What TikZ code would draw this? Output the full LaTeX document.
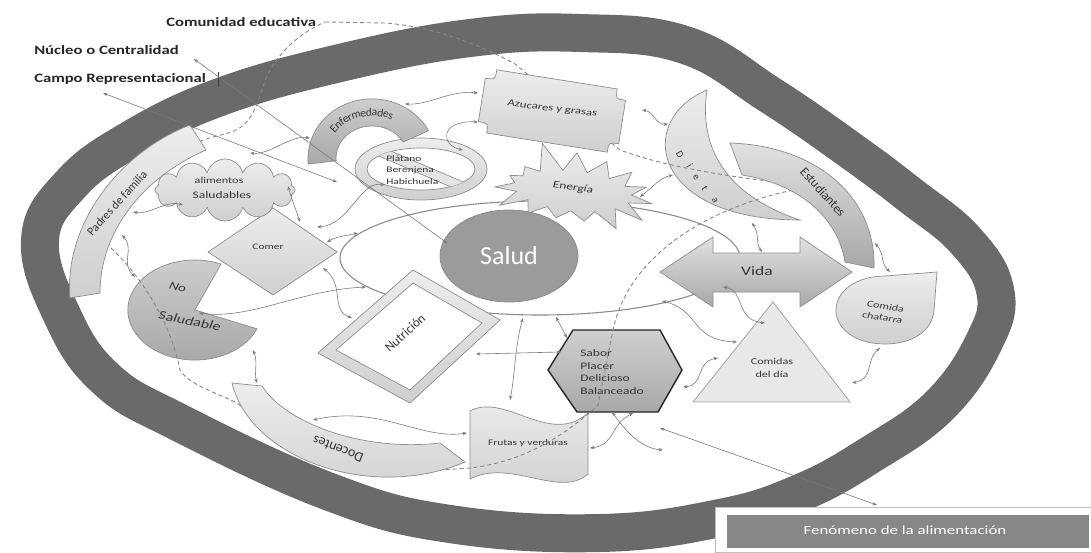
\documentclass[tikz,border=0pt]{standalone}
\usepackage{fontspec}
\setmainfont{Carlito}
\usetikzlibrary{shapes.symbols,shapes.geometric,arrows.meta,decorations.text}
\definecolor{ringc}{HTML}{6A6A6A}
\definecolor{cg}{HTML}{7A7A7A}
\definecolor{edgec}{HTML}{8C8C8C}
\definecolor{lf}{HTML}{EDEDED}
\definecolor{mf}{HTML}{CFCFCF}
\definecolor{df}{HTML}{A8A8A8}
\definecolor{txt}{HTML}{363636}
\definecolor{saludc}{HTML}{9B9B9B}
\begin{document}
\begin{tikzpicture}[x=1pt,y=-1pt,
 conn/.style={draw=cg, line width=0.6pt, {Stealth[length=4.5pt,width=3.4pt]}-{Stealth[length=4.5pt,width=3.4pt]}},
 lite/.style={draw=edgec, line width=0.7pt, top color=lf, bottom color=mf},
 midf/.style={draw=edgec, line width=0.7pt, top color=lf!60!mf, bottom color=df},
 dark/.style={draw=edgec, line width=0.7pt, top color=mf, bottom color=df},
 lbl/.style={inner sep=0pt, text=txt},
 hs/.style={xscale=1.35},
 fs/.style={font=\fontsize{#1}{#1}\selectfont},
 cdash/.style={draw=cg!90, line width=0.9pt, dash pattern=on 4pt off 3pt},
 toplbl/.style={inner sep=0pt, anchor=west, text=black!85, font=\bfseries\fontsize{12.8}{12.8}\selectfont, xscale=1.3}
]
\useasboundingbox (0,0) rectangle (1091,552);

% ring
\draw[ringc, line width=38pt, line join=round] plot[smooth cycle, tension=0.7] coordinates {
 (40,240) (62,315) (105,378) (178,422) (330,492) (450,524) (600,533) (720,518) (800,493) (870,455) (940,405) (985,340) (995,290) (965,240) (910,195) (850,150) (770,95) (685,45) (580,33) (470,38) (340,63) (220,97) (130,140) (70,185)};

% central field
\node[ellipse, draw=edgec, line width=1.1pt, minimum width=400pt, minimum height=114pt, inner sep=0pt] (field) at (540,258) {};
\node[ellipse, draw=edgec, line width=0.8pt, fill=saludc, minimum width=138pt, minimum height=92pt, text=white, fs=26] (salud) at (509,256) {Salud};
\node[starburst, starburst points=15, starburst point height=30pt, random starburst=5, lite, minimum width=178pt, minimum height=100pt, rotate=-6] (energia) at (573,191) {};
\node[lbl, fs=10, hs, rotate=-10] (energiat) at (573,188) {Energía};

% Dieta
\path[lite] (707,90) .. controls (635,120) and (650,220) .. (800,220) .. controls (728,196) and (698,150) .. (707,90) -- cycle;
\node[lbl, fs=10, rotate=-60] (d1) at (680,155) {D};
\node[lbl, fs=10, rotate=-60] (d2) at (690,166) {i};
\node[lbl, fs=10, rotate=-60] (d3) at (696,177) {e};
\node[lbl, fs=10, rotate=-60] (d4) at (705,188) {t};
\node[lbl, fs=10, rotate=-60] (d5) at (715,200) {a};

% pacman
\path[dark] (195,310) -- (221,264) arc[start angle=-67, end angle=-338, x radius=67, y radius=50] -- cycle;
\node[lbl, fs=11, hs, rotate=-20] (no) at (178,287) {No};
\node[lbl, fs=12, hs, rotate=-15] (nosal) at (190,321) {Saludable};

% Comer
\path[lite] (208,252) -- (273,208) -- (337,252) -- (273,295) -- cycle;
\node[lbl, fs=8.5, hs] (comer) at (268,247) {Comer};

% Nutricion
\path[lite] (318,353) -- (413,270) -- (500,320) -- (410,403) -- cycle;
\path[draw=edgec, fill=white, line width=0.7pt] (336,350) -- (413,283) -- (482,323) -- (410,390) -- cycle;
\node[lbl, fs=13, rotate=42] (nutri) at (405,333) {Nutrición};

% Frutas
\path[lite] (470,411) .. controls (505,392) and (550,447) .. (588,413) -- (588,474) .. controls (560,499) and (510,458) .. (470,479) -- cycle;
\node[lbl, fs=8.5, hs] (frutas) at (528,443) {Frutas y verduras};

% hexagon
\path[draw=black!85, line width=1.4pt, top color=mf, bottom color=df] (548,370) -- (573,330) -- (660,330) -- (682,370) -- (658,412) -- (577,412) -- cycle;
\node[lbl, align=left, anchor=west, font=\fontsize{10}{12.5}\selectfont, hs] (sabor) at (580,372) {Sabor\\Placer\\Delicioso\\Balanceado};

% triangle
\path[draw=edgec!80, line width=0.8pt, fill=lf!85!mf] (773,302) -- (850,402) -- (693,402) -- cycle;
\node[lbl, font=\fontsize{9}{13}\selectfont, align=center, hs] (comidas) at (772,368) {Comidas\\del día};

% Vida
\path[midf] (660,272) -- (713,237) -- (713,253) -- (800,253) -- (800,237) -- (852,272) -- (800,307) -- (800,292) -- (713,292) -- (713,307) -- cycle;
\node[lbl, fs=13, hs] (vida) at (757,271) {Vida};

% Comida chatarra
\path[lite] (885,276) -- (937,272) -- (934,310) .. controls (932,334) and (908,344) .. (885,344) .. controls (857,344) and (836,330) .. (836,310) .. controls (836,290) and (858,276) .. (885,276) -- cycle;
\node[lbl, font=\fontsize{9}{11}\selectfont, align=center, hs, rotate=-12] (chat) at (884,312) {Comida\\chatarra};

% Platano no-symbol
\path[lite, even odd rule] (421,169) ellipse[x radius=66, y radius=31] (421,169) ellipse[x radius=54, y radius=21];
\begin{scope}
\clip (421,169) ellipse[x radius=54, y radius=21];
\draw[edgec, line width=10pt] (372,148) -- (470,190);
\draw[lf!70!mf, line width=8.4pt] (366,145.5) -- (476,192.5);
\end{scope}
\node[lbl, align=left, anchor=west, font=\fontsize{8.5}{11.5}\selectfont, hs] (platano) at (386,170) {Plátano\\Berenjena\\Habichuela};

% Enfermedades
\path[dark] (308.2,164.1) arc[start angle=-185, end angle=-28, x radius=64, y radius=60] -- (403.2,142) arc[start angle=-30, end angle=-185, x radius=36, y radius=32] -- cycle;
\path[decorate, decoration={text along path, text align=center, raise=-4pt, text color=txt, text={|\fontsize{11.5}{11.5}\selectfont|Enfermedades}}] (322,158) arc[start angle=-180, end angle=-30, x radius=50, y radius=46];

% dashed community loop
\draw[cdash] (325,22) -- (385,23) .. controls (440,27) and (490,50) .. (515,64) -- (620,150) .. controls (660,165) and (720,176) .. (793,184)
  (793,190) .. controls (700,210) and (625,260) .. (612,335) -- (598,405) .. controls (560,440) and (520,462) .. (470,468) -- (440,470)
  .. controls (350,480) and (270,430) .. (237,403) .. controls (210,390) and (190,385) .. (180,370)
  .. controls (170,320) and (140,275) .. (110,247) .. controls (100,210) and (150,150) .. (225,134)
  .. controls (250,128) and (255,110) .. (262,90) .. controls (270,60) and (295,35) .. (325,22);

% shapes above the dashed loop
\begin{scope}[shift={(552,111)}, rotate=-9]
\path[lite] (-61,-32) -- (61,-32) .. controls (61,-22) .. (71,-22) -- (71,22) .. controls (61,22) .. (61,32) -- (-61,32) .. controls (-61,22) .. (-71,22) -- (-71,-22) .. controls (-61,-22) .. (-61,-32) -- cycle;
\node[lbl, fs=9.5, hs, rotate=-9] (azu) at (0,-2) {Azucares y grasas};
\end{scope}

\path[lite] (70,298) .. controls (64,225) and (118,153) .. (190,125) -- (206,150) .. controls (142,178) and (100,232) .. (100,293) -- cycle;
\node[lbl, fs=12, rotate=48] (padres) at (117,203) {Padres de familia};

\node[cloud, cloud puffs=12, cloud ignores aspect, lite, minimum width=140pt, minimum height=62pt, inner sep=0pt] (cloud) at (225,190) {};
\node[lbl, fs=9, hs] (alim) at (219,180) {alimentos};
\node[lbl, fs=10, hs] (saluda) at (222,195) {Saludables};

\path[lite] (232,383) .. controls (250,458) and (370,502) .. (465,462) -- (440,443) .. controls (360,452) and (285,422) .. (262,386) -- cycle;
\node[lbl, fs=14, rotate=158] (docentes) at (338,449) {Docentes};

\path[midf] (730,143) .. controls (818,146) and (876,198) .. (874,268) -- (845,262) .. controls (838,218) and (800,184) .. (742,175) -- cycle;
\node[lbl, fs=13, rotate=-48] (estud) at (823,192) {Estudiantes};

% Fenomeno box
\node[draw=black!25, line width=1pt, fill=white, minimum width=376pt, minimum height=45pt, anchor=north west, inner sep=0pt] (fbox) at (715,507) {};
\node[fill=black!47, minimum width=362pt, minimum height=33pt, anchor=north west, inner sep=0pt] (fin) at (727,515) {};
\node[inner sep=0pt, text=white, fs=12.5, hs] (fen) at (905,530) {Fenómeno de la alimentación};

% top labels
\node[toplbl] (comunidad) at (166,22) {Comunidad educativa};
\node[toplbl] (nucleo) at (34,50) {Núcleo o Centralidad};
\node[toplbl] (campo) at (34,79) {Campo Representacional};
\coordinate (cur1) at (218,72); \coordinate (cur2) at (218,87);
\draw[black!75, line width=0.8pt] (cur1) -- (cur2);

% connector end points
\coordinate (nucA) at (194,59); \coordinate (nucB) at (447,243);
\coordinate (camA) at (103,93); \coordinate (camB) at (337,182);
\coordinate (fenA) at (660,428); \coordinate (fenB) at (877,505);
\coordinate (a1) at (183,205); \coordinate (a2) at (133,212);
\coordinate (b1) at (122,235); \coordinate (b2) at (135,277);
\coordinate (c1) at (288,186); \coordinate (c2) at (300,222);
\coordinate (e1) at (327,242); \coordinate (e2) at (358,233);
\coordinate (f1) at (323,268); \coordinate (f2) at (352,318);
\coordinate (g1) at (199,313); \coordinate (g2) at (366,287);
\coordinate (h1) at (253,350); \coordinate (h2) at (257,383);
\coordinate (i1) at (313,420); \coordinate (i2) at (467,433);
\coordinate (j1) at (523,318); \coordinate (j2) at (510,400);
\coordinate (k1) at (476,354); \coordinate (k2) at (561,352);
\coordinate (l1) at (556,317); \coordinate (l2) at (567,338);
\coordinate (m1) at (683,387); \coordinate (m2) at (718,358);
\coordinate (n1) at (662,301); \coordinate (n2) at (737,342);
\coordinate (o1) at (723,287); \coordinate (o2) at (765,323);
\coordinate (p1) at (752,223); \coordinate (p2) at (762,252);
\coordinate (q1) at (875,243); \coordinate (q2) at (890,272);
\coordinate (r1) at (880,348); \coordinate (r2) at (852,383);
\coordinate (s1) at (642,110); \coordinate (s2) at (668,124);
\coordinate (t1) at (640,197); \coordinate (t2) at (673,175);
\coordinate (u1) at (478,93); \coordinate (u2) at (405,104);
\coordinate (v1) at (478,122); \coordinate (v2) at (463,150);
\coordinate (w1) at (385,185); \coordinate (w2) at (317,227);
\coordinate (x1) at (310,138); \coordinate (x2) at (250,153);
\coordinate (y1) at (633,413); \coordinate (y2) at (590,448);
\coordinate (z1) at (612,412); \coordinate (z2) at (663,450);

\draw[conn] (nucA) -- (nucB);
\draw[conn] (camA) -- (camB);
\draw[conn] (fenA) -- (fenB);
\draw[conn] (a1) .. controls (165,200) and (150,215) .. (a2);
\draw[conn] (b1) .. controls (135,250) and (120,262) .. (b2);
\draw[conn] (c1) .. controls (292,200) and (296,210) .. (c2);
\draw[conn] (e1) .. controls (338,236) and (345,236) .. (e2);
\draw[conn] (f1) .. controls (345,285) and (330,310) .. (f2);
\draw[conn] (g1) .. controls (250,320) and (300,290) .. (g2);
\draw[conn] (h1) .. controls (258,362) and (254,372) .. (h2);
\draw[conn] (i1) .. controls (380,405) and (420,440) .. (i2);
\draw[conn] (j1) .. controls (515,345) and (515,375) .. (j2);
\draw[conn] (k1) -- (k2);
\draw[conn] (l1) -- (l2);
\draw[conn] (m1) .. controls (705,385) and (695,362) .. (m2);
\draw[conn] (n1) .. controls (700,310) and (690,340) .. (n2);
\draw[conn] (o1) .. controls (745,290) and (735,320) .. (o2);
\draw[conn] (p1) .. controls (760,235) and (755,242) .. (p2);
\draw[conn] (q1) .. controls (885,255) and (880,262) .. (q2);
\draw[conn] (r1) .. controls (865,360) and (875,378) .. (r2);
\draw[conn] (s1) .. controls (655,112) and (655,125) .. (s2);
\draw[conn] (t1) .. controls (655,185) and (660,178) .. (t2);
\draw[conn] (u1) .. controls (450,90) and (430,105) .. (u2);
\draw[conn] (v1) .. controls (440,120) and (440,145) .. (v2);
\draw[conn] (w1) .. controls (360,180) and (350,225) .. (w2);
\draw[conn] (x1) .. controls (290,135) and (270,155) .. (x2);
\draw[conn] (y1) .. controls (610,425) and (615,445) .. (y2);
\draw[conn] (z1) .. controls (625,430) and (640,448) .. (z2);
\end{tikzpicture}
\end{document}
